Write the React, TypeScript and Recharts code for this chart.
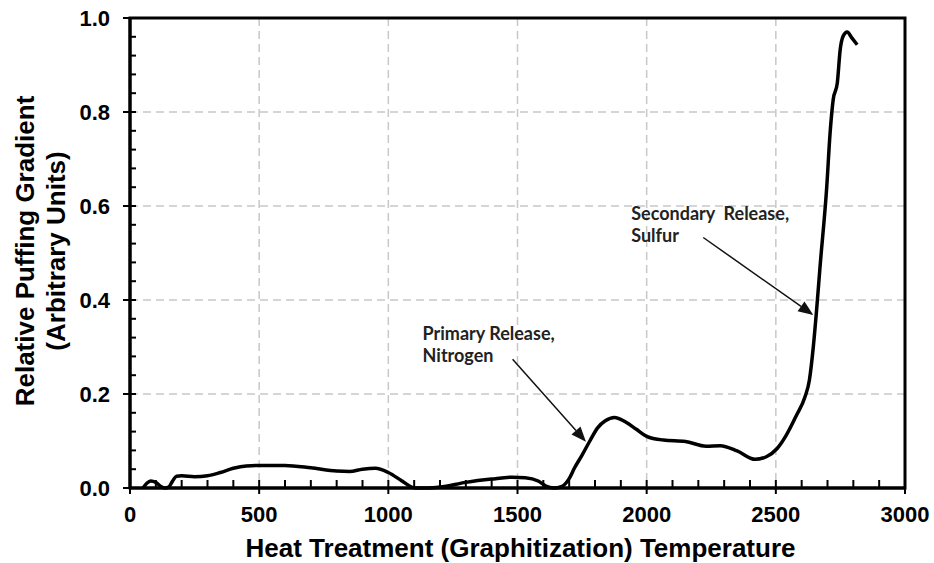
import {
  CartesianGrid,
  Line,
  LineChart,
  ReferenceArea,
  ReferenceLine,
  XAxis,
  YAxis,
} from 'recharts';

// Puffing gradient trace vs. heat treatment temperature
const temperatures = [
  50, 65, 80, 100, 120, 135, 150, 165, 180, 200, 250, 300, 350, 400, 450, 500,
  600, 700, 800, 850, 900, 950, 1000, 1050, 1090, 1110, 1150, 1200, 1300, 1400,
  1480, 1530, 1580, 1610, 1640, 1670, 1700, 1720, 1750, 1780, 1810, 1840, 1875,
  1920, 1960, 2000, 2065, 2150, 2230, 2285, 2350, 2420, 2465, 2505, 2540, 2580,
  2613, 2630, 2645, 2658, 2671, 2697, 2710, 2722, 2738, 2749, 2761, 2776, 2795,
  2815,
];
const gradient = [
  0.0, 0.01, 0.015, 0.012, 0.003, 0.0, 0.002, 0.015, 0.025, 0.026, 0.024, 0.026,
  0.033, 0.042, 0.047, 0.048, 0.048, 0.043, 0.036, 0.035, 0.04, 0.042, 0.033,
  0.016, 0.002, 0.0, 0.0, 0.002, 0.012, 0.019, 0.023, 0.022, 0.015, 0.004, 0.0,
  0.003, 0.02, 0.042, 0.07, 0.1, 0.128, 0.143, 0.15, 0.14, 0.125, 0.11, 0.102,
  0.099, 0.089, 0.09, 0.079, 0.061, 0.067, 0.084, 0.112, 0.155, 0.194, 0.23,
  0.3, 0.38, 0.47, 0.64, 0.755, 0.826, 0.862, 0.932, 0.962, 0.97, 0.957, 0.943,
];

const xMajorTicks = [0, 500, 1000, 1500, 2000, 2500, 3000];
const xTicks = [
  0, 100, 200, 300, 400, 500, 600, 700, 800, 900, 1000, 1100, 1200, 1300, 1400,
  1500, 1600, 1700, 1800, 1900, 2000, 2100, 2200, 2300, 2400, 2500, 2600, 2700,
  2800, 2900, 3000,
];
const yMajorTicks = [0, 0.2, 0.4, 0.6, 0.8, 1.0];
const yTicks = [
  0, 0.04, 0.08, 0.12, 0.16, 0.2, 0.24, 0.28, 0.32, 0.36, 0.4, 0.44, 0.48, 0.52,
  0.56, 0.6, 0.64, 0.68, 0.72, 0.76, 0.8, 0.84, 0.88, 0.92, 0.96, 1.0,
];

// arrow annotations: text anchor point -> target on the curve
const annotations = [
  { lines: ['Primary Release,', 'Nitrogen'], from: [1481, 0.274], to: [1765, 0.0985], dx: -90, dy: -19 },
  { lines: ['Secondary  Release,', 'Sulfur'], from: [2219, 0.533], to: [2645, 0.368], dx: -72, dy: -17 },
];

const data = temperatures.map((t, i) => ({ t, g: gradient[i] }));

const tickFont = {
  fontFamily: '"Liberation Sans", Arial, sans-serif',
  fontWeight: 700,
  fontSize: 22,
  fill: '#000',
};
const titleFont = { ...tickFont, fontSize: 26 };

function XTick(props: any) {
  const { x, y, payload } = props;
  const major = xMajorTicks.includes(payload.value);
  return (
    <g>
      <line x1={x} x2={x} y1={y - 8} y2={major ? y + 6 : y} stroke="#000" strokeWidth={2} />
      {major && (
        <text x={x} y={y + 34} textAnchor="middle" {...tickFont}>
          {payload.value}
        </text>
      )}
    </g>
  );
}

function YTick(props: any) {
  const { x, y, payload } = props;
  const major = yMajorTicks.some((v) => Math.abs(v - payload.value) < 1e-6);
  return (
    <g>
      <line x1={major ? x - 7 : x} x2={x + 6} y1={y} y2={y} stroke="#000" strokeWidth={2} />
      {major && (
        <text x={x - 20} y={y} dy="0.36em" textAnchor="end" {...tickFont}>
          {payload.value.toFixed(1)}
        </text>
      )}
    </g>
  );
}

function Arrow(lines: string[], dx: number, dy: number, id: string) {
  return (props: any) => {
    const { x1, y1, x2, y2 } = props;
    const ang = Math.atan2(y2 - y1, x2 - x1);
    const len = 15;
    const w = 6;
    const bx = x2 - len * Math.cos(ang);
    const by = y2 - len * Math.sin(ang);
    const px = -Math.sin(ang) * w;
    const py = Math.cos(ang) * w;
    return (
      <g key={id}>
        <line x1={x1} y1={y1} x2={bx} y2={by} stroke="#111" strokeWidth={1.5} />
        <polygon points={`${x2},${y2} ${bx + px},${by + py} ${bx - px},${by - py}`} fill="#111" />
        {lines.map((s, i) => (
          <text
            key={s}
            x={x1 + dx}
            y={y1 + dy + i * 22}
            fontFamily="Lato, sans-serif"
            fontWeight={700}
            fontSize={18}
            fill="#222"
            style={{ whiteSpace: 'pre' }}
          >
            {s}
          </text>
        ))}
      </g>
    );
  };
}

export default function App() {
  return (
    <div style={{ position: 'absolute', left: 0, top: 0, background: '#fff' }}>
      <LineChart
        width={934}
        height={563}
        data={data}
        margin={{ top: 18, right: 29, bottom: 0, left: 0 }}
      >
        <CartesianGrid
          stroke="#c8c8c8"
          strokeWidth={1.5}
          strokeDasharray="8 5"
          horizontalValues={yMajorTicks}
          verticalValues={xMajorTicks}
        />
        <XAxis
          dataKey="t"
          type="number"
          domain={[0, 3000]}
          ticks={xTicks}
          interval={0}
          height={75}
          tickSize={0}
          tickMargin={0}
          tickLine={false}
          axisLine={{ stroke: '#000', strokeWidth: 3 }}
          tick={<XTick />}
          label={{
            content: (p: any) => {
              const vb = p.viewBox;
              return (
                <text x={vb.x + vb.width / 2 + 3} y={vb.y + 69} textAnchor="middle" {...titleFont}>
                  Heat Treatment (Graphitization) Temperature
                </text>
              );
            },
          }}
        />
        <YAxis
          type="number"
          domain={[0, 1]}
          ticks={yTicks}
          interval={0}
          width={130}
          tickSize={0}
          tickMargin={0}
          tickLine={false}
          axisLine={{ stroke: '#000', strokeWidth: 3 }}
          tick={<YTick />}
          label={{
            content: () => (
              <g>
                <text transform="translate(25,251) rotate(-90)" textAnchor="middle" dominantBaseline="central" {...titleFont}>
                  Relative Puffing Gradient
                </text>
                <text transform="translate(56,251) rotate(-90)" textAnchor="middle" dominantBaseline="central" {...titleFont}>
                  (Arbitrary Units)
                </text>
              </g>
            ),
          }}
        />
        <ReferenceArea x1={0} x2={3000} y1={0} y2={1} fill="none" stroke="#000" strokeWidth={3} />
        {annotations.map((a, i) => (
          <ReferenceLine
            key={i}
            segment={[
              { x: a.from[0], y: a.from[1] },
              { x: a.to[0], y: a.to[1] },
            ]}
            shape={Arrow(a.lines, a.dx, a.dy, `ann${i}`)}
          />
        ))}
        <Line
          type="monotone"
          dataKey="g"
          stroke="#000"
          strokeWidth={3.5}
          dot={false}
          isAnimationActive={false}
        />
      </LineChart>
    </div>
  );
}
